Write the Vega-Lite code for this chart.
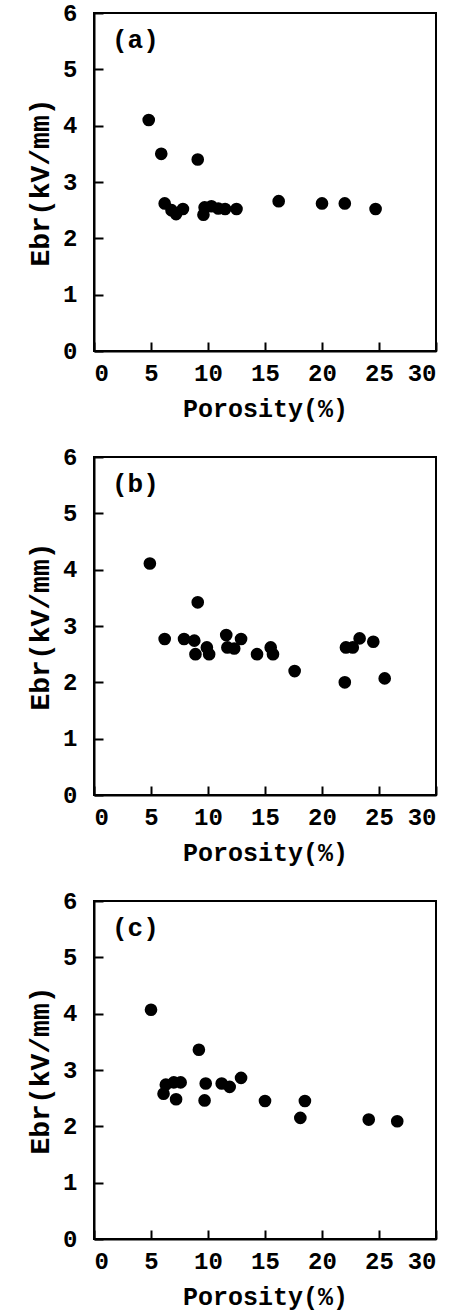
{
  "$schema": "https://vega.github.io/schema/vega-lite/v6.json",
  "background": "white",
  "padding": {"left": 25, "top": 0, "right": 5, "bottom": 5},
  "spacing": 106,
  "bounds": "flush",
  "datasets": {
    "pts": [
      {"panel": "a", "porosity": 4.8, "ebr": 4.1},
      {"panel": "a", "porosity": 5.9, "ebr": 3.5},
      {"panel": "a", "porosity": 9.1, "ebr": 3.4},
      {"panel": "a", "porosity": 6.2, "ebr": 2.62},
      {"panel": "a", "porosity": 6.8, "ebr": 2.5},
      {"panel": "a", "porosity": 7.2, "ebr": 2.43},
      {"panel": "a", "porosity": 7.8, "ebr": 2.52},
      {"panel": "a", "porosity": 9.6, "ebr": 2.42},
      {"panel": "a", "porosity": 9.7, "ebr": 2.55},
      {"panel": "a", "porosity": 10.3, "ebr": 2.57},
      {"panel": "a", "porosity": 10.9, "ebr": 2.53},
      {"panel": "a", "porosity": 11.5, "ebr": 2.52},
      {"panel": "a", "porosity": 12.5, "ebr": 2.52},
      {"panel": "a", "porosity": 16.2, "ebr": 2.66},
      {"panel": "a", "porosity": 20.0, "ebr": 2.62},
      {"panel": "a", "porosity": 22.0, "ebr": 2.62},
      {"panel": "a", "porosity": 24.7, "ebr": 2.52},
      {"panel": "b", "porosity": 4.9, "ebr": 4.11},
      {"panel": "b", "porosity": 9.1, "ebr": 3.42},
      {"panel": "b", "porosity": 6.2, "ebr": 2.77},
      {"panel": "b", "porosity": 7.9, "ebr": 2.77},
      {"panel": "b", "porosity": 8.8, "ebr": 2.74},
      {"panel": "b", "porosity": 8.9, "ebr": 2.5},
      {"panel": "b", "porosity": 9.9, "ebr": 2.62},
      {"panel": "b", "porosity": 10.1, "ebr": 2.5},
      {"panel": "b", "porosity": 11.6, "ebr": 2.84},
      {"panel": "b", "porosity": 11.7, "ebr": 2.62},
      {"panel": "b", "porosity": 12.3, "ebr": 2.6},
      {"panel": "b", "porosity": 12.9, "ebr": 2.77},
      {"panel": "b", "porosity": 14.3, "ebr": 2.5},
      {"panel": "b", "porosity": 15.5, "ebr": 2.62},
      {"panel": "b", "porosity": 15.7, "ebr": 2.5},
      {"panel": "b", "porosity": 17.6, "ebr": 2.2},
      {"panel": "b", "porosity": 22.0, "ebr": 2.0},
      {"panel": "b", "porosity": 22.1, "ebr": 2.62},
      {"panel": "b", "porosity": 22.7, "ebr": 2.62},
      {"panel": "b", "porosity": 23.3, "ebr": 2.78},
      {"panel": "b", "porosity": 24.5, "ebr": 2.72},
      {"panel": "b", "porosity": 25.5, "ebr": 2.07},
      {"panel": "c", "porosity": 5.0, "ebr": 4.07},
      {"panel": "c", "porosity": 9.2, "ebr": 3.36},
      {"panel": "c", "porosity": 6.3, "ebr": 2.74},
      {"panel": "c", "porosity": 6.1, "ebr": 2.58},
      {"panel": "c", "porosity": 7.2, "ebr": 2.48},
      {"panel": "c", "porosity": 7.0, "ebr": 2.78},
      {"panel": "c", "porosity": 7.6, "ebr": 2.78},
      {"panel": "c", "porosity": 9.8, "ebr": 2.76},
      {"panel": "c", "porosity": 9.7, "ebr": 2.46},
      {"panel": "c", "porosity": 11.2, "ebr": 2.76},
      {"panel": "c", "porosity": 11.9, "ebr": 2.7},
      {"panel": "c", "porosity": 12.9, "ebr": 2.86},
      {"panel": "c", "porosity": 15.0, "ebr": 2.45},
      {"panel": "c", "porosity": 18.5, "ebr": 2.45},
      {"panel": "c", "porosity": 18.1, "ebr": 2.15},
      {"panel": "c", "porosity": 24.1, "ebr": 2.12},
      {"panel": "c", "porosity": 26.6, "ebr": 2.09}
    ]
  },
  "vconcat": [
    {
      "width": 342, "height": 338,
      "data": {"name": "pts"},
      "transform": [{"filter": "datum.panel === 'a'"}],
      "title": {"text": "(a)"},
      "mark": {"type": "circle", "size": 160, "color": "black", "opacity": 1},
      "encoding": {
        "x": {"field": "porosity", "type": "quantitative", "scale": {"domain": [0, 30], "nice": false}, "axis": {"values": [0, 5, 10, 15, 20, 25, 30], "title": "Porosity(%)"}},
        "y": {"field": "ebr", "type": "quantitative", "scale": {"domain": [0, 6], "nice": false}, "axis": {"values": [0, 1, 2, 3, 4, 5, 6], "title": "Ebr(kV/mm)"}}
      }
    },
    {
      "width": 342, "height": 338,
      "data": {"name": "pts"},
      "transform": [{"filter": "datum.panel === 'b'"}],
      "title": {"text": "(b)"},
      "mark": {"type": "circle", "size": 160, "color": "black", "opacity": 1},
      "encoding": {
        "x": {"field": "porosity", "type": "quantitative", "scale": {"domain": [0, 30], "nice": false}, "axis": {"values": [0, 5, 10, 15, 20, 25, 30], "title": "Porosity(%)"}},
        "y": {"field": "ebr", "type": "quantitative", "scale": {"domain": [0, 6], "nice": false}, "axis": {"values": [0, 1, 2, 3, 4, 5, 6], "title": "Ebr(kV/mm)"}}
      }
    },
    {
      "width": 342, "height": 338,
      "data": {"name": "pts"},
      "transform": [{"filter": "datum.panel === 'c'"}],
      "title": {"text": "(c)"},
      "mark": {"type": "circle", "size": 160, "color": "black", "opacity": 1},
      "encoding": {
        "x": {"field": "porosity", "type": "quantitative", "scale": {"domain": [0, 30], "nice": false}, "axis": {"values": [0, 5, 10, 15, 20, 25, 30], "title": "Porosity(%)"}},
        "y": {"field": "ebr", "type": "quantitative", "scale": {"domain": [0, 6], "nice": false}, "axis": {"values": [0, 1, 2, 3, 4, 5, 6], "title": "Ebr(kV/mm)"}}
      }
    }
  ],
  "config": {
    "font": "Liberation Mono",
    "view": {"stroke": "black", "strokeWidth": 2},
    "axis": {
      "grid": false,
      "domainColor": "black",
      "domainWidth": 2,
      "tickColor": "black",
      "tickWidth": 2,
      "tickSize": -9,
      "labelFont": "Liberation Mono",
      "labelFontSize": 24,
      "labelFontWeight": "bold",
      "labelColor": "black",
      "titleFont": "Liberation Mono",
      "titleFontSize": 25,
      "titleFontWeight": "bold",
      "titleColor": "black"
    },
    "axisX": {"labelPadding": 19, "titlePadding": 11},
    "axisY": {"labelPadding": 26, "titlePadding": 8, "titleFontSize": 28},
    "title": {
      "anchor": "start",
      "frame": "group",
      "font": "Liberation Mono",
      "fontSize": 26,
      "fontWeight": "bold",
      "color": "black",
      "baseline": "top",
      "offset": -52,
      "dx": 18
    }
  }
}
